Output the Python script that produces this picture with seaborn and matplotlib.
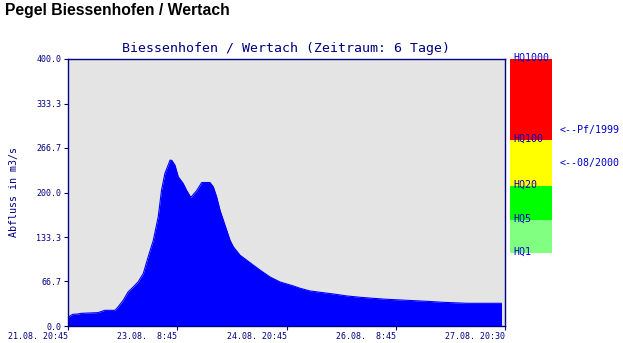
import matplotlib
matplotlib.use("Agg")
import matplotlib.pyplot as plt
import seaborn as sns
import pandas as pd

# ---- data (hours since 21.08. 20:45, discharge m3/s) ----
hours = [0.0, 1.7, 3.4, 4.6, 10.0, 12.3, 15.6, 16.6, 18.3, 19.9, 21.6, 23.2,
         24.9, 26.5, 28.2, 29.8, 30.9, 32.0, 33.7, 34.3, 35.3, 36.4, 38.0,
         39.1, 40.5, 42.4, 44.1, 46.8, 47.9, 49.0, 50.1, 51.2, 52.3, 53.4,
         54.5, 56.7, 58.9, 61.1, 63.3, 66.5, 69.8, 74.2, 76.4, 79.7, 83.0,
         87.3, 91.8, 96.2, 100.4, 104.9, 111.5, 118.1, 123.4, 131.3, 142.6]
flow = [12.6, 17.5, 18.0, 19.0, 20.0, 23.5, 23.5, 28.5, 38.5, 51.0, 58.5, 66.0,
        78.6, 103.5, 128.5, 163.5, 203.5, 228.6, 248.5, 248.0, 241.0, 223.5, 213.6,
        203.5, 192.6, 202.5, 215.0, 215.0, 208.5, 193.5, 173.5, 158.5, 143.5, 128.5,
        118.5, 106.0, 98.5, 91.0, 83.6, 73.5, 66.0, 60.0, 56.5, 52.5, 50.5,
        48.0, 45.0, 43.0, 41.5, 40.0, 38.5, 37.0, 35.5, 34.0, 34.0]

xtick_pos = [0, 36, 72, 108, 143.75]
xtick_labels = ["21.08. 20:45", "23.08.  8:45", "24.08. 20:45", "26.08.  8:45", "27.08. 20:30"]
ytick_pos = [0, 66.7, 133.3, 200.0, 266.7, 333.3, 400.0]
ytick_labels = ["0.0", "66.7", "133.3", "200.0", "266.7", "333.3", "400.0"]

hq_names = ["HQ1", "HQ5", "HQ20", "HQ100", "HQ1000"]
hq_values = [109.5, 158.5, 209.5, 278.5, 400.0]
hq_colors = ["#80FF80", "#00FF00", "#FFFF00", "#FF0000"]
marks = ["<--Pf/1999", "<--08/2000"]
mark_values = [293.5, 244.5]

df = pd.DataFrame({"Zeit": hours, "Abfluss": flow})

sns.set_theme(style="white")
plt.rcParams["font.family"] = ["DejaVu Sans Mono"]
NAVY = "#000080"
BLUE_T = "#0000CC"

W, H = 623, 343
fig = plt.figure(figsize=(W / 100, H / 100), dpi=100)
fig.patch.set_facecolor("white")

x0, x1, ytop, ybot = 67.5, 505.0, 59.0, 326.0
ax = fig.add_axes([x0 / W, 1 - ybot / H, (x1 - x0) / W, (ybot - ytop) / H])
ax.set_facecolor("#E4E4E4")

sns.lineplot(data=df, x="Zeit", y="Abfluss", ax=ax, color="#0000FF",
             linewidth=0.8)
ax.fill_between(df["Zeit"], 0, df["Abfluss"], color="#0000FF", linewidth=0)

ax.set_xlim(0, 143.75)
ax.set_ylim(0, 400)
ax.set_xticks(xtick_pos)
ax.set_xticklabels(xtick_labels, ha="right", fontsize=6, color=NAVY)
ax.set_yticks(ytick_pos)
ax.set_yticklabels(ytick_labels, fontsize=6, color=NAVY)
ax.tick_params(axis="both", direction="out", length=3.2, width=0.8,
               color=NAVY, pad=1.2, bottom=True, left=True)
ax.set_xlabel("")
ax.set_ylabel("")
for sp in ax.spines.values():
    sp.set_color(NAVY)
    sp.set_linewidth(1.0)
    sp.set_visible(True)

ax.set_title("Biessenhofen / Wertach (Zeitraum: 6 Tage)", fontsize=9.5,
             color=NAVY, pad=5)

fig.text(13.7 / W, 1 - 192 / H, "Abfluss in m3/s", rotation=90, fontsize=7.2,
         color=NAVY, ha="center", va="center")

fig.text(5 / W, 1 - 10 / H, "Pegel Biessenhofen / Wertach", fontsize=11.3,
         fontweight="bold", family="Liberation Sans", color="black",
         ha="left", va="center")

# HQ band
bx0, bx1 = 510.0, 551.7
ax2 = fig.add_axes([bx0 / W, 1 - ybot / H, (bx1 - bx0) / W, (ybot - ytop) / H])
ax2.set_xlim(0, 1)
ax2.set_ylim(0, 400)
ax2.axis("off")
for i, c in enumerate(hq_colors):
    ax2.axhspan(hq_values[i], hq_values[i + 1], color=c, linewidth=0)
for name, v in zip(hq_names, hq_values):
    ax2.text(0.07, v + 1.5, name, fontsize=7.2, color=BLUE_T, ha="left",
             va="center", clip_on=False)
for m, v in zip(marks, mark_values):
    ax2.text(1.18, v, m, fontsize=7.2, color=BLUE_T, ha="left", va="center",
             clip_on=False)

fig.savefig("out.png", dpi=100)
